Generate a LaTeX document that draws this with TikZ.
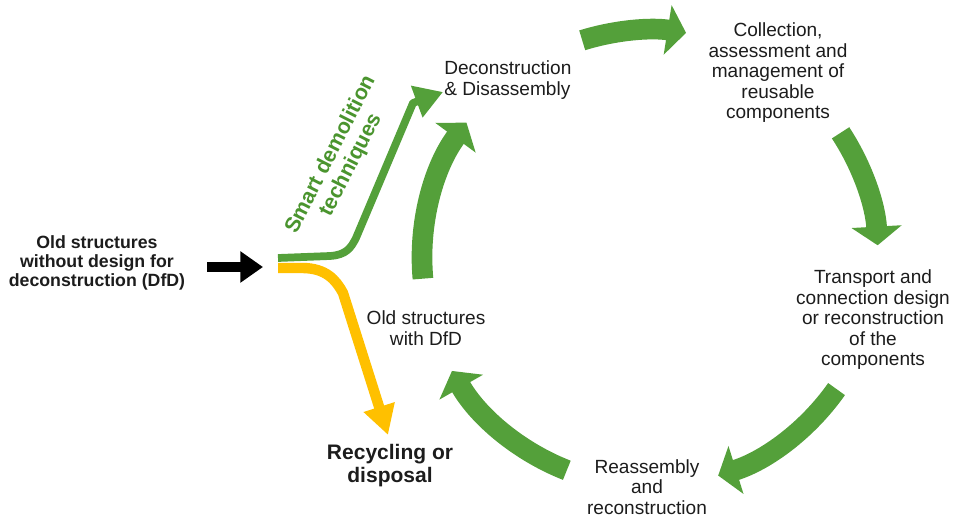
\documentclass[tikz,border=0pt]{standalone}
\usepackage{fontspec}
\setmainfont{Liberation Sans}
\usetikzlibrary{arrows.meta}
\definecolor{cyclegreen}{RGB}{84,160,58}
\definecolor{labelgreen}{RGB}{74,148,46}
\definecolor{wasteyellow}{RGB}{255,192,0}
\definecolor{inktext}{RGB}{28,28,28}
\begin{document}
\begin{tikzpicture}[x=0.75pt,y=0.75pt,
  cycletext/.style={text=inktext, align=center, inner sep=0pt,
    font=\fontsize{14.3pt}{15.4pt}\selectfont},
  boldtext/.style={text=inktext, align=center, inner sep=0pt,
    font=\bfseries\fontsize{13.3pt}{14pt}\selectfont},
  cyclearrow/.style={draw=cyclegreen, line width=15.5pt,
    -{Triangle[width=37pt,length=14pt]}},
  feedarrow/.style={draw=black, line width=7.5pt,
    -{Triangle[width=22.5pt,length=17pt]}},
  salvagearrow/.style={draw=cyclegreen, line width=5.8pt, line join=round,
    -{Triangle[width=24pt,length=21pt]}},
  wastearrow/.style={draw=wasteyellow, line width=7.8pt, line join=round,
    -{Triangle[width=23pt,length=22pt]}},
]
\useasboundingbox (0,0) rectangle (955,517);

% text labels
\node[boldtext] (oldnodfd) at (97,254) {Old structures\\without design for\\deconstruction (DfD)};
\node[text=labelgreen, align=center, inner sep=0pt, rotate=63,
      font=\bfseries\fontsize{16pt}{17pt}\selectfont] (smart) at (341,357)
      {Smart demolition\\techniques};
\node[cycletext, align=left, anchor=west] (decon) at (444,437) {Deconstruction\\\& Disassembly};
\node[cycletext] (collect) at (778,444) {Collection,\\assessment and\\management of\\reusable\\components};
\node[cycletext] (transport) at (873,197) {Transport and\\connection design\\or reconstruction\\of the\\components};
\node[cycletext] (reassembly) at (647,30) {Reassembly\\and\\reconstruction};
\node[cycletext] (withdfd) at (426,189) {Old structures\\with DfD};
\node[text=inktext, align=center, inner sep=0pt,
      font=\bfseries\fontsize{15.75pt}{17.25pt}\selectfont] (recycle) at (390,51)
      {Recycling or\\disposal};

% input arrow and the fork
\coordinate (feedtail) at (207,250);
\coordinate (fork) at (263,250);
\draw[feedarrow] (feedtail) -- (fork);

\coordinate (greenstart) at (278,259);
\coordinate (greenbend) at (356,279);
\coordinate (greentop) at (413,414);
\coordinate (greentip) at (443,425);
\draw[salvagearrow] (greenstart) -- (330,261)
  .. controls (346,262) and (351,269) .. (greenbend) -- (greentop) -- (greentip);

\coordinate (yellowstart) at (278,249);
\coordinate (yellowbend) at (343,224);
\coordinate (yellowtip) at (388,82);
\draw[wastearrow] (yellowstart) -- (302,249)
  .. controls (326,249) and (336,237) .. (yellowbend) -- (yellowtip);

% the reuse cycle
\coordinate (hub) at (650,259);
\draw[cyclearrow] ([shift={(107.3:171pt)}]hub) arc[start angle=107.3, end angle=80.9, radius=171pt];
\draw[cyclearrow] ([shift={(33.3:171pt)}]hub) arc[start angle=33.3, end angle=3.2, radius=171pt];
\draw[cyclearrow] ([shift={(-35.1:171pt)}]hub) arc[start angle=-35.1, end angle=-72.6, radius=171pt];
\draw[cyclearrow] ([shift={(-111.4:171pt)}]hub) arc[start angle=-111.4, end angle=-150.3, radius=171pt];
\draw[cyclearrow] ([shift={(-174.8:171pt)}]hub) arc[start angle=-174.8, end angle=-216.4, radius=171pt];
\end{tikzpicture}
\end{document}
